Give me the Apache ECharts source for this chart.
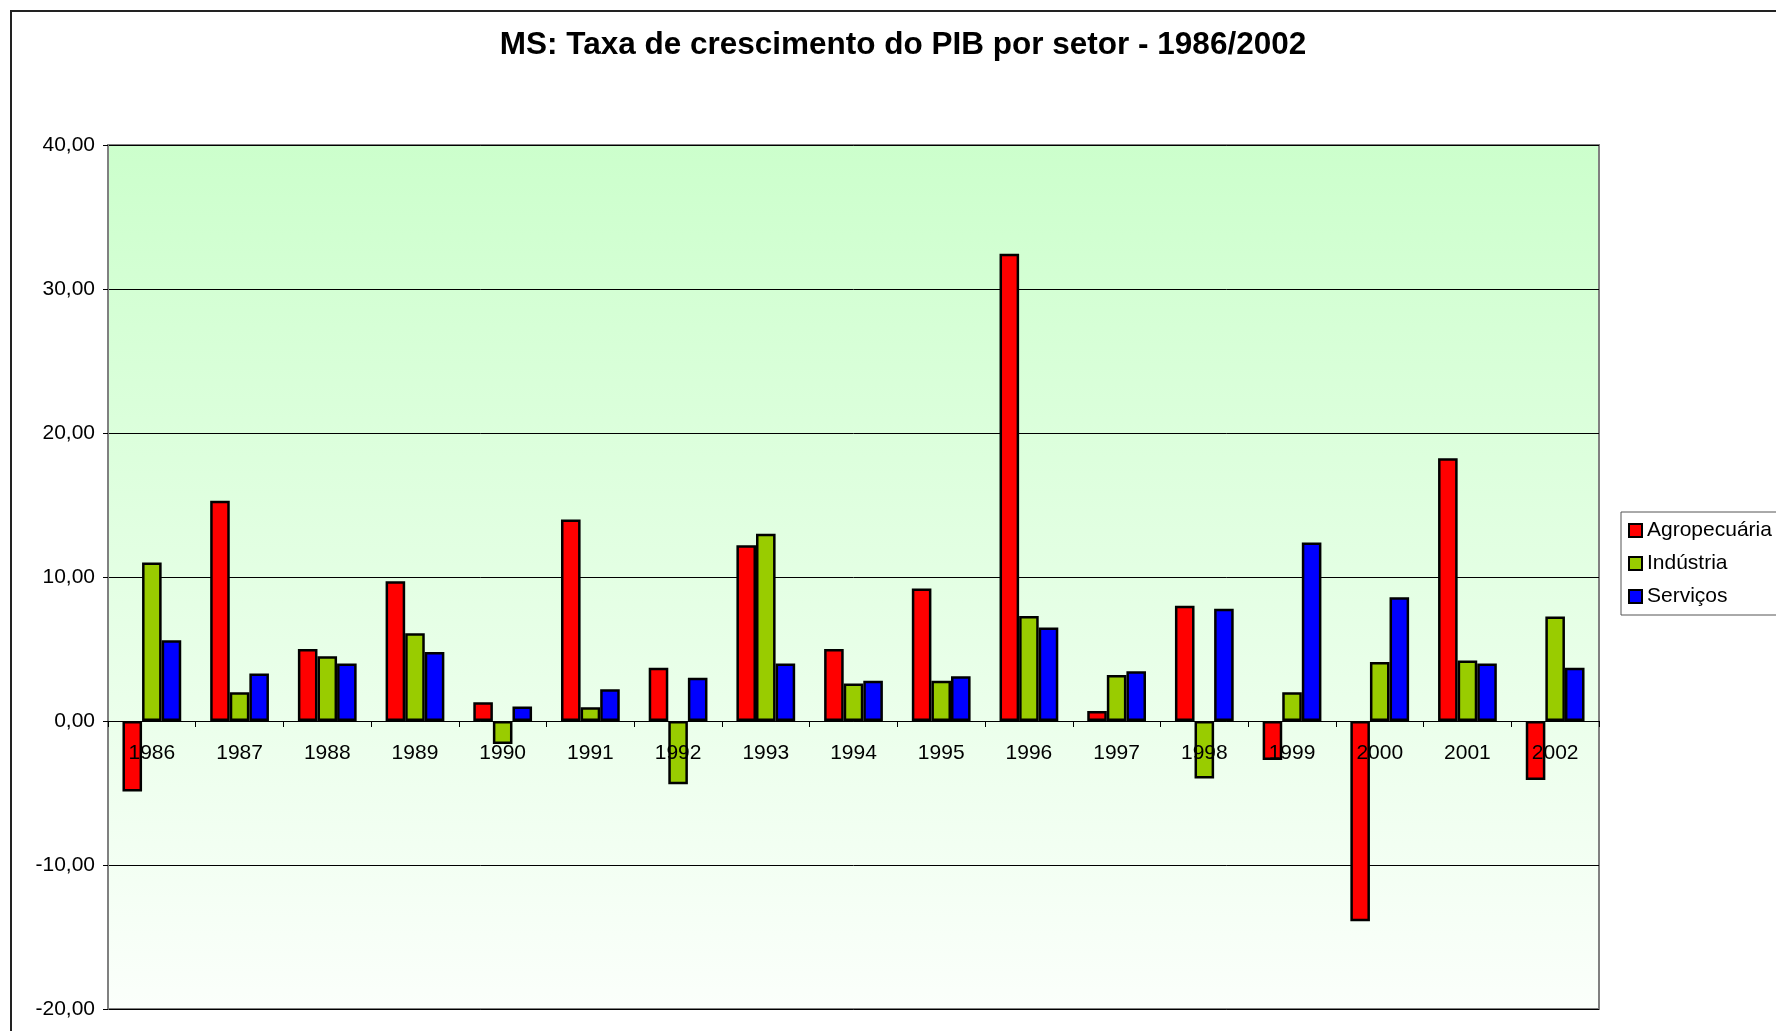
<!DOCTYPE html>
<html>
<head>
<meta charset="utf-8">
<script src="https://cdn.jsdelivr.net/npm/echarts@6/dist/echarts.min.js"></script>
<style>
html,body{margin:0;padding:0;background:#fff;}
#chart{width:1776px;height:1031px;}
</style>
</head>
<body>
<div id="chart"></div>
<script>
const years = ['1986','1987','1988','1989','1990','1991','1992','1993','1994','1995','1996','1997','1998','1999','2000','2001','2002'];
const agropecuaria = [-4.9, 15.3, 5.0, 9.7, 1.3, 14.0, 3.7, 12.2, 5.0, 9.2, 32.45, 0.7, 8.0, -2.7, -13.9, 18.25, -4.1];
const industria = [11.0, 2.0, 4.5, 6.1, -1.6, 0.95, -4.4, 13.0, 2.6, 2.8, 7.3, 3.2, -4.0, 2.0, 4.1, 4.2, 7.25];
const servicos = [5.6, 3.3, 4.0, 4.8, 1.0, 2.2, 3.0, 4.0, 2.8, 3.1, 6.5, 3.45, 7.8, 12.4, 8.6, 4.0, 3.7];
const seriesNames = ['Agropecuária', 'Indústria', 'Serviços'];
const titleText = 'MS: Taxa de crescimento do PIB por setor - 1986/2002';

const chart = echarts.init(document.getElementById('chart'), null, {renderer: 'canvas'});
const font = 'Liberation Sans, Arial, sans-serif';
const colors = ['#ff0000', '#99cc00', '#0000ff'];
const dataSets = [agropecuaria, industria, servicos];

const barSeries = seriesNames.map((name, i) => ({
  name: name,
  type: 'bar',
  data: dataSets[i],
  barGap: '0%',
  barCategoryGap: '33%',
  itemStyle: {color: colors[i], borderColor: '#000', borderWidth: 2.5},
  z: 2
}));

// category labels placed on the zero line, as in the reference
const labelSeries = {
  type: 'scatter',
  name: '_labels',
  data: years.map(y => [y, 0]),
  symbolSize: 0,
  silent: true,
  z: 10,
  itemStyle: {opacity: 1},
  label: {
    show: true,
    position: 'bottom',
    distance: 22,
    fontFamily: font,
    fontSize: 21,
    color: '#000',
    opacity: 1,
    textBorderWidth: 0,
    formatter: p => p.value[0]
  }
};

chart.setOption({
  animation: false,
  textStyle: {fontFamily: font},
  title: {
    text: titleText,
    left: 898,
    textAlign: 'center',
    top: 24,
    textStyle: {fontFamily: font, fontSize: 31.5, fontWeight: 'bold', color: '#000'}
  },
  graphic: [{
    type: 'rect',
    shape: {x: 11, y: 11, width: 1800, height: 1100},
    style: {fill: null, stroke: '#222', lineWidth: 2},
    silent: true, z: -10
  }],
  legend: {
    orient: 'vertical',
    left: 1621,
    top: 512,
    padding: [8, 12, 8, 7],
    borderColor: '#555',
    borderWidth: 1,
    backgroundColor: '#fff',
    itemWidth: 13,
    itemHeight: 13,
    itemGap: 12,
    icon: 'rect',
    itemStyle: {borderColor: '#000', borderWidth: 2},
    textStyle: {fontFamily: font, fontSize: 21, color: '#000', lineHeight: 21},
    data: seriesNames
  },
  grid: {
    left: 108,
    right: 177,
    top: 145,
    bottom: 22,
    outerBoundsMode: 'none',
    containLabel: false,
    show: true,
    borderColor: '#808080',
    borderWidth: 2,
    backgroundColor: {
      type: 'linear', x: 0, y: 0, x2: 0, y2: 1,
      colorStops: [{offset: 0, color: '#ccffcc'}, {offset: 1, color: '#fbfffb'}]
    }
  },
  xAxis: {
    type: 'category',
    data: years,
    z: 5,
    axisLine: {onZero: true, lineStyle: {color: '#000', width: 1}},
    axisTick: {show: true, length: 6, inside: false, lineStyle: {color: '#000'}},
    axisLabel: {show: false},
    splitLine: {show: false}
  },
  yAxis: {
    type: 'value',
    min: -20,
    max: 40,
    interval: 10,
    axisLine: {show: true, lineStyle: {color: '#808080', width: 2}},
    axisTick: {show: true, length: 5, lineStyle: {color: '#000'}},
    axisLabel: {
      fontFamily: font, fontSize: 21, color: '#000', margin: 13,
      formatter: v => v.toFixed(2).replace('.', ',')
    },
    splitLine: {show: true, lineStyle: {color: '#000', width: 1}}
  },
  series: barSeries.concat([labelSeries])
});
</script>
</body>
</html>
